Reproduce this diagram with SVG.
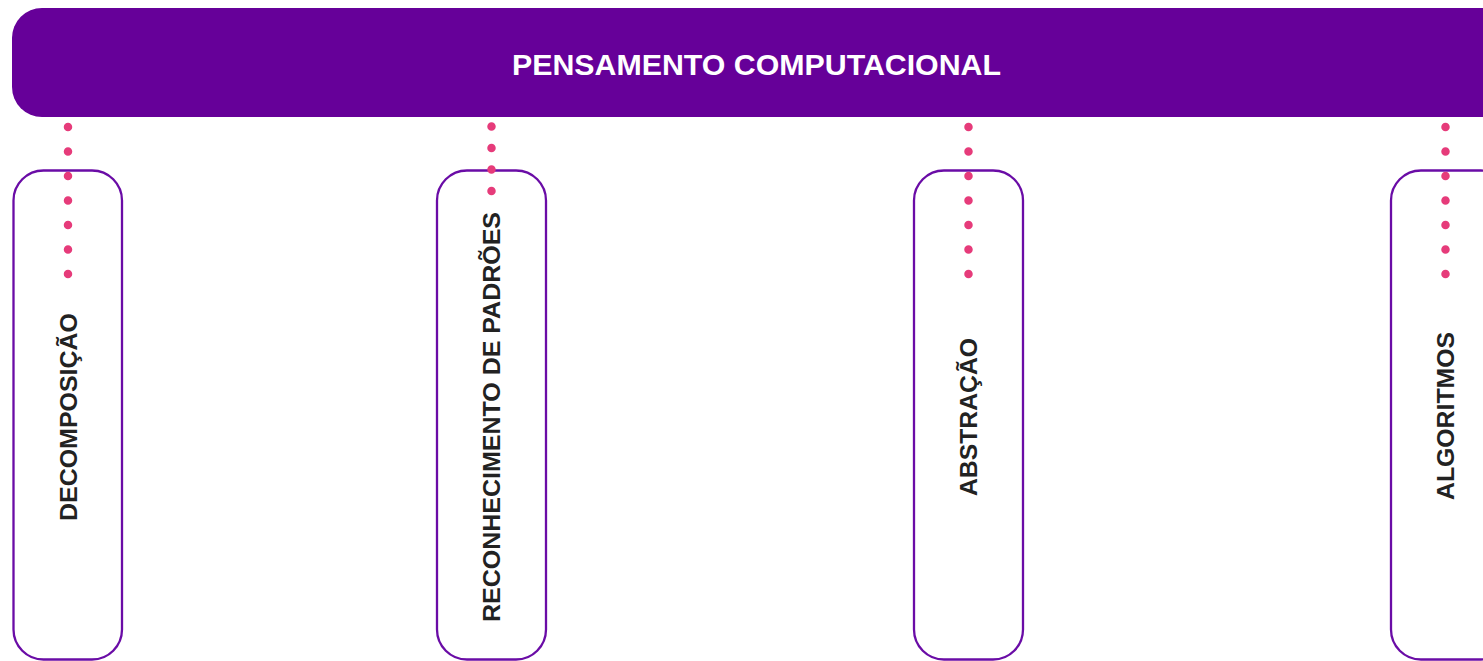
<svg xmlns="http://www.w3.org/2000/svg" width="1483" height="661" viewBox="0 0 1483 661">
<style>
.hdr{fill:#660099}
.box{fill:#ffffff;stroke:#6a0ca6;stroke-width:2.3}
.lbl{font-family:"Liberation Sans",Arial,sans-serif;font-weight:bold;font-size:24px;fill:#222222;text-anchor:middle}
.title{font-family:"Liberation Sans",Arial,sans-serif;font-weight:bold;font-size:30px;fill:#ffffff;text-anchor:middle}
.dots{stroke:#e63b7a;stroke-width:8.5;stroke-linecap:round;fill:none}
</style>
<rect width="1483" height="661" fill="#ffffff"/>
<g id="node-pensamento">
<rect class="hdr" x="12" y="8" width="1500" height="109" rx="30" ry="30"/>
<text class="title" x="756.5" y="75" textLength="489" lengthAdjust="spacingAndGlyphs">PENSAMENTO COMPUTACIONAL</text>
</g>
<g id="node-decomposicao">
<rect class="box" x="13.5" y="170.5" width="108.5" height="489" rx="30" ry="30"/>
<text class="lbl" transform="translate(76.5,417) rotate(-90)" textLength="208" lengthAdjust="spacingAndGlyphs">DECOMPOSIÇÃO</text>
</g>
<g id="node-reconhecimento">
<rect class="box" x="437" y="170.5" width="109" height="489" rx="30" ry="30"/>
<text class="lbl" transform="translate(500,417) rotate(-90)" textLength="410" lengthAdjust="spacingAndGlyphs">RECONHECIMENTO DE PADRÕES</text>
</g>
<g id="node-abstracao">
<rect class="box" x="914" y="170.5" width="109" height="489" rx="30" ry="30"/>
<text class="lbl" transform="translate(977,417) rotate(-90)" textLength="158" lengthAdjust="spacingAndGlyphs">ABSTRAÇÃO</text>
</g>
<g id="node-algoritmos">
<rect class="box" x="1391" y="170.5" width="120" height="489" rx="30" ry="30"/>
<text class="lbl" transform="translate(1454,416) rotate(-90)" textLength="168" lengthAdjust="spacingAndGlyphs">ALGORITMOS</text>
</g>
<g id="connectors">
<line class="dots" x1="68" y1="127" x2="68" y2="277" stroke-dasharray="0 24.5"/>
<line class="dots" x1="491.5" y1="126.5" x2="491.5" y2="194" stroke-dasharray="0 21.5"/>
<line class="dots" x1="968.5" y1="127" x2="968.5" y2="277" stroke-dasharray="0 24.5"/>
<line class="dots" x1="1445.5" y1="127" x2="1445.5" y2="277" stroke-dasharray="0 24.5"/>
</g>
</svg>
